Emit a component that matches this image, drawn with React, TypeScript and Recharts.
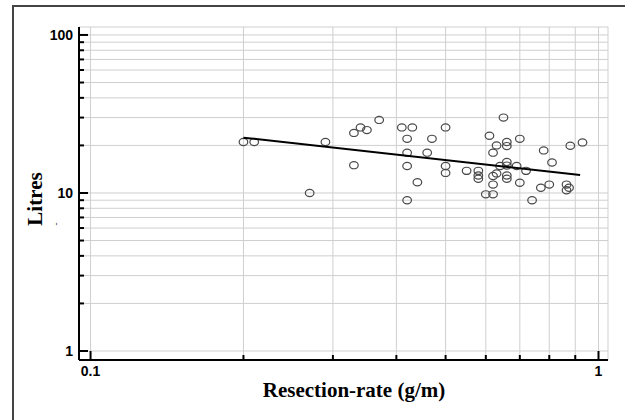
import {
  CartesianGrid,
  Scatter,
  ScatterChart,
  XAxis,
  YAxis,
} from 'recharts';

// resection rate (g/m) of each patient
const resectionRate = [
  0.2, 0.21, 0.29, 0.27, 0.33, 0.34, 0.35, 0.37, 0.33, 0.41,
  0.43, 0.42, 0.42, 0.42, 0.44, 0.42, 0.47, 0.46, 0.5, 0.5,
  0.5, 0.55, 0.58, 0.58, 0.58, 0.61, 0.65, 0.63, 0.62, 0.66,
  0.66, 0.7, 0.66, 0.64, 0.66, 0.69, 0.72, 0.62, 0.63, 0.66,
  0.66, 0.62, 0.7, 0.6, 0.62, 0.78, 0.88, 0.93, 0.81, 0.77,
  0.8, 0.865, 0.875, 0.865, 0.74,
];

// litres, same order
const litres = [
  21, 21, 21, 10, 24, 26, 25, 29, 15, 26,
  26, 22, 18, 14.8, 11.7, 9, 22, 18, 26, 14.8,
  13.4, 13.8, 13.8, 12.9, 12.3, 23, 30, 20, 18, 21,
  19.8, 22, 15.7, 14.8, 14.9, 14.8, 13.8, 12.8, 13.3, 12.9,
  12.3, 11.3, 11.6, 9.8, 9.8, 18.6, 19.9, 20.9, 15.6, 10.8,
  11.3, 11.3, 10.8, 10.4, 9,
];

// fitted power-law line, two ends
const fitRate = [0.2, 0.92];
const fitLitres = [22.4, 13];

const xTicks = [0.1, 0.2, 0.3, 0.4, 0.5, 0.6, 0.7, 0.8, 0.9, 1];
const yTicks = [1, 2, 3, 4, 5, 6, 7, 8, 9, 10, 20, 30, 40, 50, 60, 70, 80, 90, 100];
const xLabelled = [0.1, 1];
const yLabelled = [1, 10, 100];

const points = resectionRate.map((x, i) => ({ x, y: litres[i] }));
const fitLine = fitRate.map((x, i) => ({ x, y: fitLitres[i] }));

const tickFont = '"Liberation Sans", Arial, sans-serif';
const titleFont = '"Liberation Serif", "Times New Roman", serif';

function XTick(props: any) {
  const { x, y, payload } = props;
  const major = xLabelled.includes(payload.value);
  return (
    <g>
      <line x1={x} y1={y} x2={x} y2={y - (major ? 9 : 5)} stroke="#000" strokeWidth={2} />
      {major && (
        <text x={x} y={y + 16} textAnchor="middle" fontSize={14} fontWeight="bold" fontFamily={tickFont} fill="#000">
          {payload.value}
        </text>
      )}
    </g>
  );
}

function YTick(props: any) {
  const { x, y, payload } = props;
  const major = yLabelled.includes(payload.value);
  return (
    <g>
      <line x1={x} y1={y} x2={x + (major ? 9 : 5)} y2={y} stroke="#000" strokeWidth={2} />
      {major && (
        <text x={x - 6} y={y} dy="0.36em" textAnchor="end" fontSize={14} fontWeight="bold" fontFamily={tickFont} fill="#000">
          {payload.value}
        </text>
      )}
    </g>
  );
}

function Ring(props: any) {
  const { cx, cy } = props;
  return <ellipse cx={cx} cy={cy} rx={4.3} ry={3.6} fill="none" stroke="#4a4a4a" strokeWidth={1.2} />;
}

export default function App() {
  return (
    <div style={{ position: 'absolute', left: 0, top: 0, width: 625, height: 420, overflow: 'hidden', background: '#fff' }}>
      <div
        style={{
          position: 'absolute',
          left: 12,
          top: 5,
          width: 640,
          height: 440,
          border: '2px solid #444',
          boxSizing: 'border-box',
        }}
      />
      <div style={{ position: 'absolute', left: 0, top: 0 }}>
        <ScatterChart width={625} height={420} margin={{ top: 27, right: 17, bottom: 0, left: 0 }}>
          <CartesianGrid stroke="#cfcfcf" strokeWidth={1} />
          <XAxis
            type="number"
            dataKey="x"
            scale="log"
            domain={[0.0949, 1.044]}
            allowDataOverflow
            ticks={xTicks}
            interval={0}
            height={60}
            tickSize={0}
            tickMargin={0}
            tickLine={false}
            axisLine={{ stroke: '#000', strokeWidth: 2 }}
            tick={<XTick />}
          />
          <YAxis
            type="number"
            dataKey="y"
            scale="log"
            domain={[0.877, 112.3]}
            allowDataOverflow
            ticks={yTicks}
            interval={0}
            width={79}
            tickSize={0}
            tickMargin={0}
            tickLine={false}
            axisLine={{ stroke: '#000', strokeWidth: 2 }}
            tick={<YTick />}
          />
          <Scatter data={points} shape={<Ring />} isAnimationActive={false} />
          <Scatter
            data={fitLine}
            line={{ stroke: '#000', strokeWidth: 2 }}
            shape={() => <g />}
            isAnimationActive={false}
          />
        </ScatterChart>
        <svg width={625} height={420} style={{ position: 'absolute', left: 0, top: 0, pointerEvents: 'none' }}>
          <text
            x={354}
            y={397}
            textAnchor="middle"
            fontSize={21}
            fontWeight="bold"
            fontFamily={titleFont}
            fill="#000"
          >
            Resection-rate (g/m)
          </text>
          <text
            x={42}
            y={199}
            textAnchor="middle"
            fontSize={21}
            fontWeight="bold"
            fontFamily={titleFont}
            fill="#000"
            transform="rotate(-90 42 199)"
          >
            Litres
          </text>
          <text x={59} y={224} fontSize={9} fontWeight="bold" fill="#333" textAnchor="middle" transform="rotate(-90 59 224)">
            -
          </text>
        </svg>
      </div>
    </div>
  );
}
